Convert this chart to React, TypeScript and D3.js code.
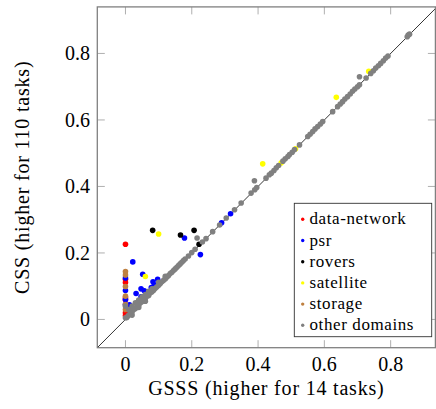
import React from 'react';
import * as d3 from "d3";

// legend order
const domains = ["data-network", "psr", "rovers", "satellite", "storage", "other domains"];
const colors = ["#ff0000", "#0000ff", "#000000", "#ffff00", "#bf8040", "#808080"];

// GSSS (x) and CSS (y) per domain
const dataNetworkX = [0, 0, 0, 0, 0, 0, 0];
const dataNetworkY = [0.226, 0.121, 0.111, 0.065, 0.059, 0.02, 0.012];

const psrX = [0, 0, 0, 0, 0.012, 0.022, 0.052, 0.097, 0.083, 0.087, 0.078, 0.047, 0.057, 0.032, 0.047, 0.065, 0.178, 0.226, 0.29, 0.317];
const psrY = [0.125, 0.087, 0.06, 0.045, 0.044, 0.173, 0.136, 0.121, 0.113, 0.104, 0.096, 0.092, 0.086, 0.078, 0.068, 0.074, 0.245, 0.195, 0.291, 0.318];

const roversX = [0.082, 0.166, 0.207, 0.222];
const roversY = [0.268, 0.254, 0.268, 0.226];

const satelliteX = [0.1, 0.06, 0.414, 0.636, 0.47, 0.513, 0.734];
const satelliteY = [0.257, 0.129, 0.468, 0.668, 0.471, 0.513, 0.746];

const storageX = [0, 0, 0, 0, 0, 0];
const storageY = [0.144, 0.134, 0.099, 0.07, 0.045, 0.03];

const otherX = [
    0, 0, 0.004, 0.008, 0.012, 0.016, 0.02, 0.025, 0.03, 0.035, 0.04, 0.045, 0.05, 0.055, 0.06, 0.065,
    0.07, 0.075, 0.08, 0.085, 0.09, 0.095, 0.1, 0.105, 0.11, 0.115, 0.12, 0.125, 0.13, 0.135, 0.14,
    0.145, 0.15, 0.155, 0.16, 0.165, 0.17, 0.175, 0.18, 0.19, 0.2, 0.21,
    0.01, 0.02, 0.03, 0.04, 0.05, 0.06, 0.07, 0.08, 0.1, 0.12, 0.02, 0.04, 0.06,
    0.216, 0.232, 0.243, 0.263, 0.284, 0.304, 0.329, 0.349, 0.379, 0.39, 0.396, 0.389,
    0.424, 0.434, 0.44, 0.448, 0.455, 0.462, 0.475, 0.482, 0.49, 0.495, 0.503, 0.51, 0.525,
    0.55, 0.557, 0.565, 0.572, 0.58, 0.588, 0.595, 0.625, 0.64, 0.648, 0.655, 0.662, 0.67,
    0.678, 0.685, 0.692, 0.7, 0.706, 0.706, 0.726, 0.74, 0.748, 0.755, 0.763, 0.77, 0.778,
    0.785, 0.792, 0.85, 0.853, 0.857
];
const otherY = [
    0.005, 0.04, 0.006, 0.011, 0.015, 0.02, 0.023, 0.03, 0.033, 0.04, 0.043, 0.05, 0.053, 0.058, 0.063, 0.07,
    0.072, 0.08, 0.083, 0.088, 0.094, 0.098, 0.103, 0.108, 0.113, 0.118, 0.122, 0.128, 0.132, 0.138, 0.142,
    0.147, 0.152, 0.157, 0.162, 0.167, 0.172, 0.177, 0.182, 0.191, 0.201, 0.211,
    0.03, 0.04, 0.05, 0.058, 0.068, 0.075, 0.085, 0.092, 0.112, 0.13, 0.013, 0.036, 0.055,
    0.245, 0.233, 0.243, 0.264, 0.284, 0.305, 0.33, 0.35, 0.38, 0.39, 0.397, 0.417,
    0.425, 0.435, 0.44, 0.448, 0.456, 0.463, 0.476, 0.483, 0.49, 0.496, 0.503, 0.511, 0.525,
    0.55, 0.557, 0.565, 0.573, 0.58, 0.588, 0.595, 0.625, 0.64, 0.648, 0.655, 0.663, 0.67,
    0.678, 0.686, 0.693, 0.7, 0.706, 0.73, 0.726, 0.74, 0.748, 0.756, 0.763, 0.77, 0.778,
    0.786, 0.792, 0.85, 0.855, 0.858
];

const seriesX = [dataNetworkX, psrX, roversX, satelliteX, storageX, otherX];
const seriesY = [dataNetworkY, psrY, roversY, satelliteY, storageY, otherY];

const ticks = [0, 0.2, 0.4, 0.6, 0.8];
const xLabel = "GSSS (higher for 14 tasks)";
const yLabel = "CSS (higher for 110 tasks)";

const W = 436, H = 409;
const font = "serif";

const x = d3.scaleLinear().domain([-0.085, 0.935]).range([97.3, 435.4]);
const y = d3.scaleLinear().domain([-0.085, 0.94]).range([347.7, 6.9]);
const fmt = d => d === 0 ? "0" : d3.format(".1f")(d);

const Chart = () => {
    const [x0, x1] = x.range();
    const [y0, y1] = y.range();
    const tl = 7.5;

    return (
        <svg width={W} height={H} fontFamily={font} style={{position: "absolute", left: 0, top: 0, background: "#fff"}}>
            <defs>
                <clipPath id="plotclip">
                    <rect x={x0} y={y1} width={x1 - x0} height={y0 - y1}/>
                </clipPath>
            </defs>

            {/* diagonal */}
            <line clipPath="url(#plotclip)" x1={x(-0.085)} y1={y(-0.085)} x2={x(0.95)} y2={y(0.95)}
                  stroke="#000" strokeWidth={0.8}/>

            {/* points, other domains drawn last */}
            {seriesX.map((xs, k) => (
                <g key={k} fill={colors[k]}>
                    {xs.map((v, i) => <circle key={i} cx={x(v)} cy={y(seriesY[k][i])} r={2.8}/>)}
                </g>
            ))}

            {/* ticks, inward, on all sides */}
            <g stroke="#a6a6a6" strokeWidth={0.9}>
                {ticks.map(t => (
                    <g key={t}>
                        <line x1={x(t)} x2={x(t)} y1={y0} y2={y0 - tl}/>
                        <line x1={x(t)} x2={x(t)} y1={y1} y2={y1 + tl}/>
                        <line y1={y(t)} y2={y(t)} x1={x0} x2={x0 + tl}/>
                        <line y1={y(t)} y2={y(t)} x1={x1} x2={x1 - tl}/>
                    </g>
                ))}
            </g>

            <rect x={x0} y={y1} width={x1 - x0} height={y0 - y1} fill="none" stroke="#808080" strokeWidth={1.3}/>

            {ticks.map(t => <text key={"x" + t} x={x(t)} y={371} textAnchor="middle" fontFamily={font} fontSize={20}>{fmt(t)}</text>)}
            {ticks.map(t => <text key={"y" + t} x={90} y={y(t) + 7} textAnchor="end" fontFamily={font} fontSize={20}>{fmt(t)}</text>)}
            <text x={(x0 + x1) / 2} y={395} textAnchor="middle" fontFamily={font} fontSize={20} letterSpacing={0.8}>{xLabel}</text>
            <text transform={`translate(29, ${(y0 + y1) / 2}) rotate(-90)`} textAnchor="middle"
                  fontFamily={font} fontSize={20} letterSpacing={0.8}>{yLabel}</text>

            {/* legend */}
            <rect x={294.3} y={203.3} width={137.4} height={133.4} fill="#fff" stroke="#333" strokeWidth={0.9}/>
            {domains.map((name, i) => {
                const cy = 219.3 + i * 21.2;
                return (
                    <g key={name}>
                        <circle cx={302.7} cy={cy} r={1.7} fill={colors[i]}/>
                        <text x={309.5} y={cy + 5} fontFamily={font} fontSize={17} letterSpacing={0.6}>{name}</text>
                    </g>
                );
            })}
        </svg>
    );
};

export default function App() {
    return <Chart/>;
}
